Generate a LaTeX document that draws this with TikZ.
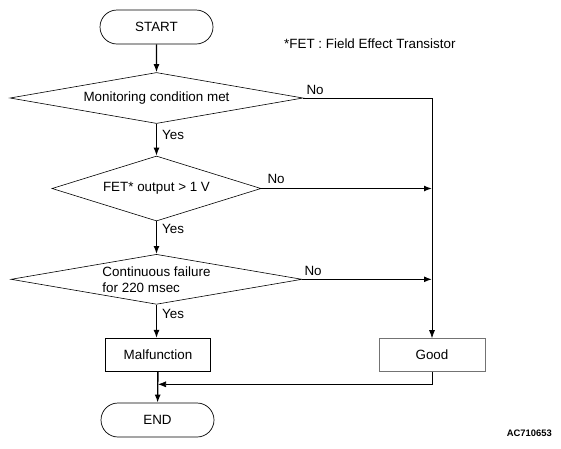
\documentclass[tikz,border=0pt]{standalone}
\usepackage{fontspec}
\setmainfont{Liberation Sans}
\usetikzlibrary{shapes.geometric,shapes.misc,arrows.meta,positioning}

\tikzset{
	flowterm/.style={rounded rectangle,draw,line width=0.7pt,minimum width=113pt,minimum height=34pt,inner sep=0pt},
	flowdecide/.style={diamond,draw,line width=0.6pt,inner sep=0pt},
	flowbox/.style={rectangle,draw,line width=0.7pt,minimum width=105pt,minimum height=33pt,inner sep=0pt},
	flowarrow/.style={-{Latex[length=8pt,width=6pt]},line width=1.4pt},
	thinarrow/.style={-{Latex[length=8pt,width=6pt]},line width=0.7pt},
	answer/.style={anchor=base west,inner sep=0pt}
}

\begin{document}
\begin{tikzpicture}[x=1pt,y=-1pt,font=\fontsize{13.4}{16}\selectfont]
	\useasboundingbox (0,0) rectangle (561,448);

	\node (start) at (156.5,27) [flowterm] {START};
	\node (monitor) at (156.5,98) [flowdecide,aspect=5.7,minimum width=293pt,minimum height=51pt] {Monitoring condition met};
	\node (fetout) at (156.5,188.5) [flowdecide,aspect=3.2,minimum width=209pt,minimum height=65pt] {FET* output > 1 V};
	\node (failure) at (156.5,279.3) [flowdecide,aspect=5.8,minimum width=291pt,minimum height=50pt,align=left] {Continuous failure\\for 220 msec};

	\node (malfunction) at (158,354.8) [flowbox] {Malfunction};
	\node (good) at (432,355) [flowbox,draw=black!55,minimum width=106pt] {Good};
	\node (stop) at (157.5,420) [flowterm] {END};

	\node (fetnote) at (284,44) [anchor=west,inner sep=0pt] {*FET : Field Effect Transistor};
	\node (figid) at (552,436) [anchor=base east,inner sep=0pt,font=\bfseries\fontsize{9.4}{11}\selectfont] {AC710653};

	\path[flowarrow] (start) edge (monitor);
	\path[flowarrow] (monitor) edge (fetout);
	\path[flowarrow] (fetout) edge (failure);
	\draw[flowarrow] (failure.south) -- (failure.south |- malfunction.north);
	\path[flowarrow] (malfunction) edge (stop);

	\draw[thinarrow] (monitor.east) -| (good.north);
	\draw[flowarrow] (fetout.east) -- (fetout.east -| good.north);
	\draw[flowarrow] (failure.east) -- (failure.east -| good.north);

	\coordinate (merge) at (158,384.3);
	\draw[thinarrow] (good.south) |- (merge);

	%answers
	\node (monitorno) at ([shift={(3pt,4pt)}]monitor.east) [answer] {No};
	\node (fetoutno) at ([shift={(6pt,5.5pt)}]fetout.east) [answer] {No};
	\node (failureno) at ([shift={(2pt,4pt)}]failure.east) [answer] {No};

	\node (monitoryes) at ([shift={(5.5pt,-16pt)}]monitor.south) [answer] {Yes};
	\node (fetoutyes) at ([shift={(5.5pt,-12pt)}]fetout.south) [answer] {Yes};
	\node (failureyes) at ([shift={(5.5pt,-13.5pt)}]failure.south) [answer] {Yes};
\end{tikzpicture}
\end{document}
